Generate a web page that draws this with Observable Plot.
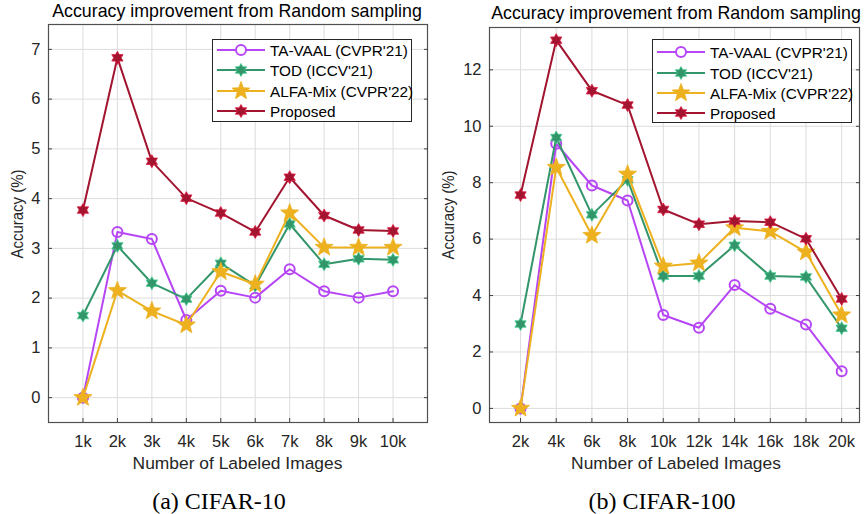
<!DOCTYPE html>
<html>
<head>
<meta charset="utf-8">
<script src="https://cdn.jsdelivr.net/npm/d3@7"></script>
<script src="https://cdn.jsdelivr.net/npm/@observablehq/plot@0.6"></script>
<style>
  body { margin: 0; background: #fff; }
  #wrap { position: relative; width: 864px; height: 514px; overflow: hidden; font-family: "Liberation Sans", Arial, sans-serif; color: #262626; }
  .abs { position: absolute; white-space: nowrap; line-height: 1; }
  .title { font-size: 17.8px; color: #000; transform: translate(-50%, -50%); }
  .xlab { font-size: 17.4px; transform: translate(-50%, -50%); }
  .ylab { font-size: 17.4px; transform: translate(-50%, -50%) rotate(-90deg) scaleX(0.86); }
  .cap { font-family: "Liberation Serif", "Times New Roman", serif; font-size: 24px; color: #000; transform: translate(-50%, -50%); }
  svg { font-family: "Liberation Sans", Arial, sans-serif; }
</style>
</head>
<body>
<div id="wrap"></div>
<script>
// ---------- data ----------
const seriesNames = ["TA-VAAL (CVPR'21)", "TOD (ICCV'21)", "ALFA-Mix (CVPR'22)", "Proposed"];

const c10X = [1, 2, 3, 4, 5, 6, 7, 8, 9, 10];
const c10Labels = ["1k", "2k", "3k", "4k", "5k", "6k", "7k", "8k", "9k", "10k"];
const c10TaVaal = [0, 3.33, 3.19, 1.56, 2.15, 2.01, 2.58, 2.14, 2.01, 2.14];
const c10Tod = [1.65, 3.05, 2.30, 1.98, 2.70, 2.25, 3.49, 2.68, 2.79, 2.77];
const c10Alfa = [0, 2.15, 1.74, 1.46, 2.53, 2.28, 3.71, 3.02, 3.02, 3.02];
const c10Prop = [3.77, 6.83, 4.75, 4.01, 3.71, 3.33, 4.43, 3.66, 3.37, 3.35];
const c10YTicks = [0, 1, 2, 3, 4, 5, 6, 7];

const c100X = [2, 4, 6, 8, 10, 12, 14, 16, 18, 20];
const c100Labels = ["2k", "4k", "6k", "8k", "10k", "12k", "14k", "16k", "18k", "20k"];
const c100TaVaal = [0, 9.38, 7.90, 7.37, 3.31, 2.86, 4.37, 3.53, 2.97, 1.32];
const c100Tod = [2.99, 9.60, 6.86, 8.10, 4.69, 4.69, 5.78, 4.69, 4.66, 2.84];
const c100Alfa = [0, 8.54, 6.13, 8.30, 5.04, 5.15, 6.40, 6.27, 5.54, 3.31];
const c100Prop = [7.56, 13.05, 11.26, 10.75, 7.05, 6.53, 6.64, 6.60, 6.01, 3.88];
const c100YTicks = [0, 2, 4, 6, 8, 10, 12];

const colors = ["#B646F5", "#33956A", "#EDB120", "#A2142F"];

// ---------- symbols ----------
function starSymbol(n, innerRatio) {
  return {
    draw(context, size) {
      const R = Math.sqrt(size / Math.PI);
      const r = R * innerRatio;
      for (let i = 0; i < 2 * n; i++) {
        const a = -Math.PI / 2 + i * Math.PI / n;
        const rr = i % 2 === 0 ? R : r;
        const x = rr * Math.cos(a), y = rr * Math.sin(a);
        if (i === 0) context.moveTo(x, y); else context.lineTo(x, y);
      }
      context.closePath();
    }
  };
}
const hexagram = starSymbol(6, 1 / Math.sqrt(3));
const pentagram = starSymbol(5, 0.42);

const markerStyles = [
  {symbol: "circle", r: 5},
  {symbol: hexagram, r: 6.5},
  {symbol: pentagram, r: 9.5},
  {symbol: hexagram, r: 6.5}
];

function edgeColor(i) {
  return i === 2 ? colors[i] : d3.color(colors[i]).brighter(0.9).formatHex();
}

function buildRows(xs, labels, arrays) {
  const rows = [];
  arrays.forEach((arr, si) => {
    arr.forEach((v, i) => rows.push({x: xs[i], label: labels[i], y: v, s: si}));
  });
  return rows;
}

function makeChart(opts) {
  const rows = buildRows(opts.xs, opts.labels, opts.arrays);
  const marks = [
    Plot.gridX(opts.xs, {stroke: "#dcdcdc", strokeOpacity: 1}),
    Plot.gridY(opts.yTicks, {stroke: "#dcdcdc", strokeOpacity: 1}),
    Plot.frame({stroke: "#505050", strokeWidth: 1.2}),
    // tick labels
    Plot.axisX(opts.xs, {label: null, tickSize: 0, tickPadding: 13, tickFormat: (d, i) => opts.labels[i], fontSize: 16.5, fill: "#262626"}),
    Plot.axisY(opts.yTicks, {label: null, anchor: "left", tickSize: 0, tickPadding: 8, tickFormat: d => String(d), fontSize: 16.5, fill: "#262626"}),
    // inward ticks
    Plot.axisX(opts.xs, {label: null, anchor: "bottom", tickSize: 4, dy: -4, text: null, stroke: "#404040"}),
    Plot.axisY(opts.yTicks, {label: null, anchor: "left", tickSize: 4, dx: 4, text: null, stroke: "#404040"}),
    Plot.axisY(opts.yTicks, {label: null, anchor: "right", tickSize: 4, dx: -4, text: null, stroke: "#404040"})
  ];
  opts.arrays.forEach((arr, si) => {
    const data = rows.filter(d => d.s === si);
    const m = markerStyles[si];
    const c = colors[si];
    marks.push(Plot.line(data, {x: "x", y: "y", stroke: c, strokeWidth: 2}));
    if (si === 0) {
      marks.push(Plot.dot(data, {x: "x", y: "y", symbol: "circle", r: m.r, stroke: c, strokeWidth: 2, fill: "none"}));
    } else {
      marks.push(Plot.dot(data, {x: "x", y: "y", symbol: m.symbol, r: m.r, fill: c, stroke: edgeColor(si), strokeWidth: 0.8}));
    }
  });
  return Plot.plot({
    width: 432,
    height: 475,
    marginLeft: opts.ml,
    marginRight: 5,
    marginTop: opts.mt,
    marginBottom: 53,
    x: {domain: opts.xDomain, axis: null},
    y: {domain: opts.yDomain, axis: null},
    style: {background: "transparent", overflow: "visible"},
    marks
  });
}

const wrap = document.getElementById("wrap");

function place(node, left, top) {
  node.style.position = "absolute";
  node.style.left = left + "px";
  node.style.top = top + "px";
  wrap.appendChild(node);
}

function addText(cls, text, x, y) {
  const d = document.createElement("div");
  d.className = "abs " + cls;
  d.textContent = text;
  d.style.left = x + "px";
  d.style.top = y + "px";
  wrap.appendChild(d);
}

function addLegend(left, top, w, h, rowY) {
  const svg = d3.create("svg").attr("width", w).attr("height", h).style("overflow", "visible");
  svg.append("rect").attr("x", 0.5).attr("y", 0.5).attr("width", w - 1).attr("height", h - 1)
    .attr("fill", "white").attr("stroke", "#262626").attr("stroke-width", 1);
  seriesNames.forEach((name, i) => {
    const y = rowY[i];
    const g = svg.append("g");
    g.append("line").attr("x1", 5).attr("x2", 53).attr("y1", y).attr("y2", y)
      .attr("stroke", colors[i]).attr("stroke-width", 2);
    const m = markerStyles[i];
    const sym = d3.symbol(m.symbol === "circle" ? d3.symbolCircle : m.symbol, m.r * m.r * Math.PI);
    const p = g.append("path").attr("d", sym()).attr("transform", `translate(29,${y})`);
    if (i === 0) p.attr("fill", "white").attr("stroke", colors[i]).attr("stroke-width", 2);
    else p.attr("fill", colors[i]).attr("stroke", edgeColor(i)).attr("stroke-width", 0.8);
    g.append("text").attr("x", 58).attr("y", y).attr("dy", "0.36em")
      .attr("font-size", 15.3).attr("fill", "#000").text(name);
  });
  place(svg.node(), left, top);
}

// ---------- left chart (CIFAR-10) ----------
const left = makeChart({
  xs: c10X, labels: c10Labels,
  arrays: [c10TaVaal, c10Tod, c10Alfa, c10Prop],
  yTicks: c10YTicks, xDomain: [0, 11], yDomain: [-0.5, 7.5], ml: 48, mt: 24
});
place(left, 0, 0);

// ---------- right chart (CIFAR-100) ----------
const right = makeChart({
  xs: c100X, labels: c100Labels,
  arrays: [c100TaVaal, c100Tod, c100Alfa, c100Prop],
  yTicks: c100YTicks, xDomain: [0.26, 21], yDomain: [-0.5, 13.5], ml: 57, mt: 27
});
place(right, 432, 0);

addLegend(212, 39, 200, 83, [11, 31, 52, 72]);
addLegend(652, 39, 200, 84, [13, 34, 54, 74]);

addText("title", "Accuracy improvement from Random sampling", 237, 12);
addText("title", "Accuracy improvement from Random sampling", 676, 14);
addText("xlab", "Number of Labeled Images", 237.5, 464);
addText("xlab", "Number of Labeled Images", 676, 464);
addText("ylab", "Accuracy (%)", 18, 214);
addText("ylab", "Accuracy (%)", 449, 215);
addText("cap", "(a) CIFAR-10", 219, 501);
addText("cap", "(b) CIFAR-100", 662, 501);
</script>
</body>
</html>
